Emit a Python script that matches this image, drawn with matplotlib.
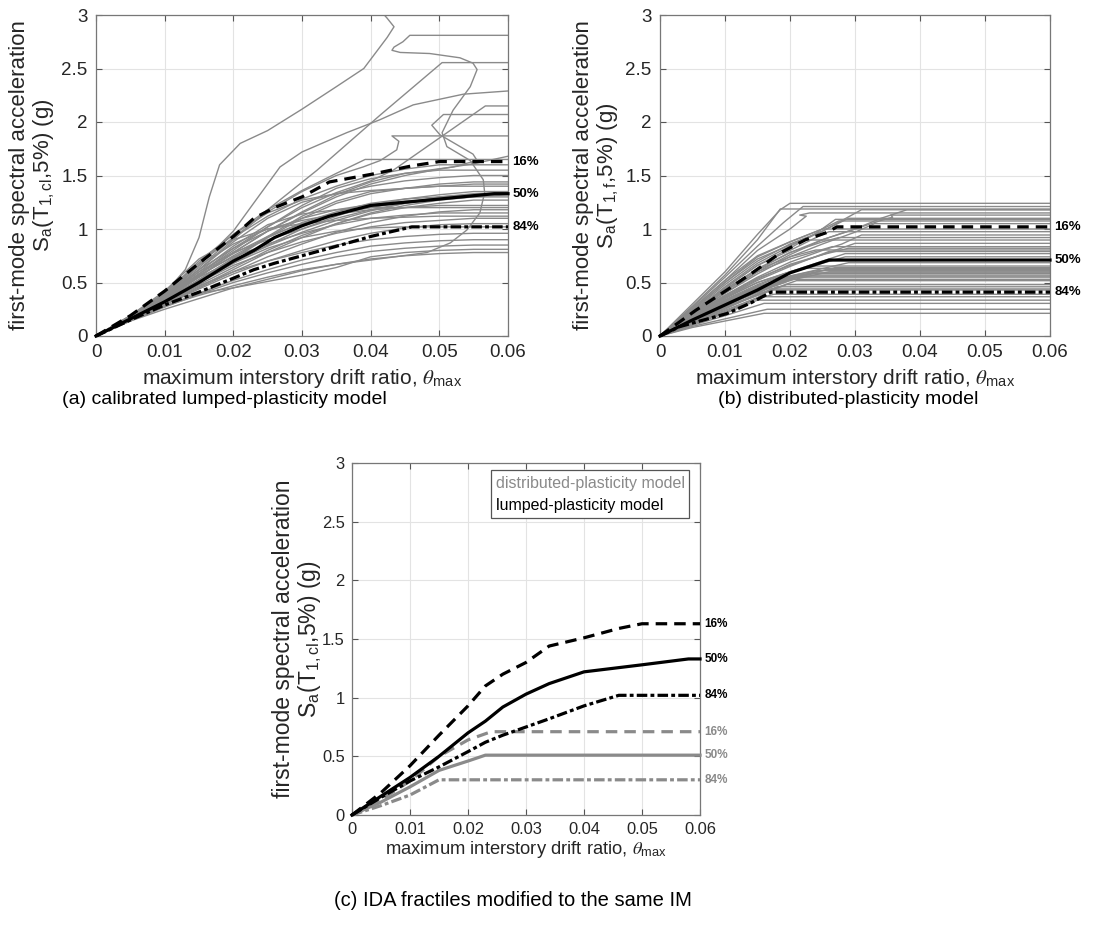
import matplotlib.pyplot as plt

plt.rcParams['font.family'] = ['Liberation Sans', 'DejaVu Sans']
plt.rcParams['mathtext.fontset'] = 'stix'

# axis ticks
drift_ticks = [0, 0.01, 0.02, 0.03, 0.04, 0.05, 0.06]
drift_tick_labels = ['0', '0.01', '0.02', '0.03', '0.04', '0.05', '0.06']
sa_ticks = [0, 0.5, 1, 1.5, 2, 2.5, 3]
sa_tick_labels = ['0', '0.5', '1', '1.5', '2', '2.5', '3']

# (a) lumped-plasticity IDA curves, Sa values on a common drift grid
drift_grid = [0, 0.005, 0.01, 0.015, 0.02, 0.025, 0.03, 0.035, 0.04, 0.045, 0.05, 0.055, 0.06]
lumped_bundle = [
    [0, .19, .40, .68, .92, 1.12, 1.28, 1.40, 1.50, 1.56, 1.60, 1.60, 1.60],
    [0, .17, .36, .58, .80, 1.02, 1.22, 1.38, 1.47, 1.52, 1.55, 1.55, 1.55],
    [0, .18, .38, .62, .88, 1.10, 1.25, 1.33, 1.40, 1.45, 1.48, 1.50, 1.50],
    [0, .17, .34, .52, .72, .92, 1.10, 1.24, 1.33, 1.38, 1.42, 1.44, 1.44],
    [0, .18, .39, .70, .95, 1.15, 1.27, 1.33, 1.36, 1.38, 1.40, 1.40, 1.40],
    [0, .16, .32, .50, .68, .85, 1.00, 1.12, 1.22, 1.28, 1.32, 1.35, 1.35],
    [0, .17, .35, .56, .75, .92, 1.06, 1.16, 1.24, 1.28, 1.30, 1.32, 1.33],
    [0, .18, .37, .60, .78, .90, 1.00, 1.10, 1.18, 1.24, 1.28, 1.31, 1.33],
    [0, .16, .30, .46, .62, .78, .92, 1.05, 1.15, 1.22, 1.27, 1.30, 1.32],
    [0, .17, .36, .62, .82, .98, 1.10, 1.18, 1.23, 1.26, 1.28, 1.30, 1.30],
    [0, .16, .31, .48, .64, .80, .94, 1.05, 1.14, 1.20, 1.24, 1.27, 1.27],
    [0, .18, .38, .66, .86, 1.00, 1.08, 1.14, 1.18, 1.20, 1.22, 1.22, 1.22],
    [0, .15, .30, .45, .60, .74, .86, .97, 1.06, 1.12, 1.16, 1.18, 1.18],
    [0, .17, .35, .57, .74, .86, .96, 1.04, 1.10, 1.13, 1.15, 1.15, 1.15],
    [0, .16, .32, .50, .66, .78, .88, .96, 1.02, 1.06, 1.08, 1.10, 1.10],
    [0, .15, .29, .44, .58, .70, .80, .89, .96, 1.01, 1.04, 1.05, 1.05],
    [0, .16, .31, .47, .60, .70, .78, .85, .90, .93, .95, .96, .96],
    [0, .15, .28, .40, .52, .62, .71, .78, .84, .87, .89, .90, .90],
    [0, .14, .27, .39, .50, .59, .67, .74, .79, .82, .84, .85, .85],
    [0, .16, .33, .40, .45, .51, .57, .64, .74, .78, .80, .81, .81],
    [0, .14, .25, .35, .45, .53, .61, .67, .72, .75, .77, .78, .78],
    [0, .19, .42, .72, .90, 1.00, 1.05, 1.08, 1.10, 1.11, 1.12, 1.12, 1.12],
    [0, .17, .36, .60, .84, 1.04, 1.14, 1.18, 1.20, 1.20, 1.20, 1.20, 1.20],
    [0, .17, .34, .52, .68, .82, .92, .98, 1.01, 1.02, 1.02, 1.02, 1.02],
    [0, .18, .36, .55, .70, .84, .97, 1.08, 1.17, 1.24, 1.30, 1.33, 1.34],
    [0, .16, .33, .53, .73, .93, 1.12, 1.26, 1.35, 1.38, 1.40, 1.42, 1.42],
    [0, .17, .36, .58, .77, .93, 1.05, 1.14, 1.20, 1.25, 1.29, 1.32, 1.33],
]

# (a) curves that leave the main bundle, as (drift, Sa) points
lumped_steep = [(0, 0), (.005, .18), (.01, .4), (.013, .62), (.015, .92), (.0165, 1.3), (.018, 1.6),
                (.021, 1.8), (.025, 1.92), (.03, 2.12), (.035, 2.33), (.039, 2.5), (.0424, 2.79),
                (.0434, 2.89), (.0424, 2.97), (.0413, 3.05)]
lumped_loop = [(0, 0), (.005, .15), (.01, .28), (.015, .38), (.02, .47), (.025, .55), (.03, .62),
               (.035, .67), (.04, .71), (.0482, .78), (.0516, .87), (.054, .99), (.0559, 1.15),
               (.0566, 1.34), (.0564, 1.46), (.0545, 1.64), (.0511, 1.77), (.0504, 1.9), (.052, 2.11),
               (.0545, 2.33), (.0555, 2.49), (.0549, 2.55), (.053, 2.6), (.0486, 2.64), (.0443, 2.65),
               (.0431, 2.67), (.0434, 2.7), (.0447, 2.75), (.0457, 2.81), (.06, 2.81)]
lumped_high = [
    [(0, 0), (.005, .18), (.01, .37), (.015, .62), (.02, .9), (.025, 1.18), (.0322, 1.55),
     (.0413, 2.06), (.0504, 2.555), (.06, 2.555)],
    [(0, 0), (.005, .18), (.01, .38), (.015, .66), (.02, .98), (.0268, 1.58), (.03, 1.72),
     (.0365, 1.9), (.0413, 2.02), (.0462, 2.16), (.0535, 2.26), (.06, 2.29)],
    [(0, 0), (.005, .18), (.01, .38), (.015, .64), (.02, .92), (.025, 1.16), (.03, 1.35), (.035, 1.5),
     (.0389, 1.58), (.0414, 1.64), (.0438, 1.74), (.0441, 1.82), (.0431, 1.87), (.06, 1.87)],
    [(0, 0), (.005, .17), (.01, .35), (.015, .58), (.02, .82), (.025, 1.02), (.03, 1.2), (.035, 1.34),
     (.04, 1.45), (.0433, 1.55), (.05, 1.85), (.0567, 2.15), (.06, 2.15)],
    [(0, 0), (.005, .17), (.01, .34), (.015, .55), (.02, .78), (.025, .98), (.03, 1.16), (.035, 1.32),
     (.04, 1.44), (.045, 1.52), (.052, 1.58), (.0555, 1.64), (.0549, 1.7), (.0501, 1.88),
     (.0489, 1.97), (.0506, 2.07), (.06, 2.07)],
    [(0, 0), (.005, .19), (.01, .4), (.015, .68), (.02, .95), (.025, 1.18), (.03, 1.36), (.035, 1.52),
     (.0392, 1.65), (.06, 1.65)],
    [(0, 0), (.005, .17), (.01, .34), (.015, .55), (.02, .78), (.025, .98), (.03, 1.15), (.035, 1.3),
     (.04, 1.42), (.045, 1.5), (.05, 1.56), (.055, 1.61), (.06, 1.68)],
]

# (b) distributed-plasticity IDA curves, (drift, Sa) points
distributed_curves = [
    [(0, 0), (.005, .30), (.01, .60), (.015, .95), (.0185, 1.18), (.02, 1.24), (.06, 1.24)],
    [(0, 0), (.005, .28), (.01, .57), (.015, .90), (.0185, 1.187), (.06, 1.187)],
    [(0, 0), (.005, .27), (.01, .55), (.015, .84), (.019, 1.06), (.022, 1.21), (.06, 1.21)],
    [(0, 0), (.005, .22), (.01, .46), (.015, .68), (.02, .84), (.025, .98), (.028, 1.08), (.031, 1.18), (.06, 1.18)],
    [(0, 0), (.005, .20), (.01, .40), (.015, .60), (.02, .76), (.025, .90), (.03, 1.0), (.034, 1.1), (.038, 1.18), (.06, 1.18)],
    [(0, 0), (.005, .25), (.01, .52), (.015, .80), (.02, 1.0), (.0225, 1.12), (.0215, 1.13), (.023, 1.15), (.06, 1.15)],
    [(0, 0), (.005, .21), (.01, .42), (.015, .62), (.02, .78), (.025, .90), (.03, 1.0), (.034, 1.08), (.0358, 1.11), (.0355, 1.13), (.06, 1.13)],
    [(0, 0), (.005, .23), (.01, .48), (.015, .70), (.02, .86), (.025, .98), (.029, 1.10), (.06, 1.10)],
    [(0, 0), (.005, .22), (.01, .45), (.015, .66), (.02, .82), (.024, .96), (.027, 1.09), (.06, 1.09)],
    [(0, 0), (.005, .24), (.01, .50), (.015, .74), (.02, .88), (.025, 1.0), (.0275, 1.075), (.06, 1.075)],
    [(0, 0), (.005, .20), (.01, .40), (.015, .58), (.02, .74), (.025, .86), (.03, .97), (.033, 1.05), (.06, 1.05)],
    [(0, 0), (.005, .26), (.01, .52), (.015, .75), (.02, .88), (.025, 1.0), (.06, 1.0)],
    [(0, 0), (.005, .22), (.01, .45), (.015, .66), (.02, .80), (.024, .92), (.026, .975), (.06, .975)],
    [(0, 0), (.005, .19), (.01, .38), (.015, .55), (.02, .69), (.025, .80), (.028, .86), (.031, .944), (.06, .944)],
    [(0, 0), (.005, .21), (.01, .43), (.015, .63), (.02, .78), (.025, .88), (.0275, .92), (.06, .92)],
    [(0, 0), (.005, .24), (.01, .50), (.015, .72), (.02, .85), (.022, .897), (.06, .897)],
    [(0, 0), (.005, .20), (.01, .38), (.015, .54), (.02, .66), (.025, .76), (.03, .866), (.06, .866)],
    [(0, 0), (.005, .21), (.01, .42), (.015, .60), (.02, .72), (.0265, .835), (.06, .835)],
    [(0, 0), (.005, .19), (.01, .37), (.015, .53), (.02, .67), (.025, .76), (.029, .82), (.06, .82)],
    [(0, 0), (.005, .22), (.01, .44), (.015, .62), (.02, .74), (.024, .804), (.06, .804)],
    [(0, 0), (.005, .19), (.01, .36), (.015, .52), (.02, .65), (.026, .79), (.06, .79)],
    [(0, 0), (.005, .18), (.01, .34), (.015, .48), (.02, .60), (.025, .70), (.0285, .77), (.06, .77)],
    [(0, 0), (.005, .17), (.01, .33), (.015, .47), (.02, .59), (.025, .68), (.0285, .74), (.06, .74)],
    [(0, 0), (.005, .17), (.01, .32), (.015, .45), (.02, .56), (.025, .63), (.029, .685), (.06, .685)],
    [(0, 0), (.005, .19), (.01, .36), (.015, .50), (.02, .60), (.024, .654), (.06, .654)],
    [(0, 0), (.005, .16), (.01, .31), (.015, .44), (.02, .55), (.025, .61), (.027, .64), (.06, .64)],
    [(0, 0), (.005, .18), (.01, .35), (.015, .50), (.02, .60), (.022, .632), (.06, .632)],
    [(0, 0), (.005, .16), (.01, .30), (.015, .43), (.02, .54), (.0255, .62), (.06, .62)],
    [(0, 0), (.005, .17), (.01, .33), (.015, .46), (.02, .56), (.024, .61), (.06, .61)],
    [(0, 0), (.005, .15), (.01, .28), (.015, .41), (.02, .52), (.026, .60), (.06, .60)],
    [(0, 0), (.005, .15), (.01, .29), (.015, .42), (.02, .53), (.024, .59), (.06, .59)],
    [(0, 0), (.005, .17), (.01, .32), (.015, .45), (.02, .54), (.023, .585), (.06, .585)],
    [(0, 0), (.005, .17), (.01, .33), (.015, .46), (.021, .57), (.06, .57)],
    [(0, 0), (.005, .15), (.01, .30), (.015, .43), (.02, .53), (.022, .56), (.06, .56)],
    [(0, 0), (.005, .16), (.01, .31), (.015, .44), (.0195, .55), (.06, .55)],
    [(0, 0), (.005, .15), (.01, .29), (.015, .41), (.0205, .53), (.06, .53)],
    [(0, 0), (.005, .14), (.01, .27), (.015, .39), (.021, .517), (.06, .517)],
    [(0, 0), (.005, .13), (.01, .26), (.015, .38), (.0195, .48), (.06, .48)],
    [(0, 0), (.005, .14), (.01, .27), (.015, .38), (.018, .46), (.06, .46)],
    [(0, 0), (.005, .13), (.01, .25), (.0165, .44), (.06, .44)],
    [(0, 0), (.005, .12), (.01, .24), (.015, .36), (.017, .43), (.06, .43)],
    [(0, 0), (.005, .12), (.01, .23), (.015, .35), (.0175, .39), (.06, .39)],
    [(0, 0), (.005, .11), (.01, .22), (.0155, .367), (.06, .367)],
    [(0, 0), (.005, .11), (.01, .21), (.015, .335), (.06, .335)],
    [(0, 0), (.005, .10), (.01, .19), (.016, .305), (.06, .305)],
    [(0, 0), (.005, .09), (.01, .16), (.0165, .25), (.06, .25)],
    [(0, 0), (.005, .08), (.01, .14), (.015, .20), (.016, .212), (.06, .212)],
]

# fractile curves, lumped model (panels a and c)
lumped_16_x = [0, .005, .01, .015, .02, .023, .026, .03, .034, .04, .046, .05, .06]
lumped_16_y = [0, .19, .42, .68, .93, 1.1, 1.2, 1.3, 1.44, 1.51, 1.59, 1.63, 1.63]
lumped_50_x = [0, .005, .01, .015, .02, .023, .026, .03, .034, .04, .05, .058, .06]
lumped_50_y = [0, .16, .32, .5, .7, .8, .92, 1.03, 1.12, 1.22, 1.28, 1.33, 1.33]
lumped_84_x = [0, .005, .01, .015, .02, .023, .026, .03, .034, .04, .046, .06]
lumped_84_y = [0, .15, .29, .41, .54, .62, .68, .75, .82, .93, 1.02, 1.02]

# fractile curves, distributed model at its own IM (panel b)
dist_16_x = [0, .0055, .0103, .0142, .0186, .0224, .0258, .0272, .06]
dist_16_y = [0, .24, .43, .59, .78, .9, .97, 1.02, 1.02]
dist_50_x = [0, .005, .01, .015, .02, .022, .026, .06]
dist_50_y = [0, .15, .29, .43, .59, .63, .71, .71]
dist_84_x = [0, .003, .0103, .014, .0171, .06]
dist_84_y = [0, .087, .21, .31, .41, .41]

# fractile curves, distributed model modified to the lumped IM (panel c)
mod_16_x = [0, .005, .01, .015, .02, .024, .06]
mod_16_y = [0, .13, .29, .5, .64, .71, .71]
mod_50_x = [0, .005, .01, .015, .02, .023, .06]
mod_50_y = [0, .11, .24, .38, .46, .51, .51]
mod_84_x = [0, .005, .01, .015, .06]
mod_84_y = [0, .08, .17, .30, .30]

fractile_names = ['16%', '50%', '84%']

GRAY = '#8a8a8a'
DASH = (3.6, 2.2)
DASHDOT = (3.3, 1.0, 1.2, 1.0)

W, H = 1110, 927
fig = plt.figure(figsize=(W / 100, H / 100), dpi=100)


def make_axes(left, top, right, bottom):
  return fig.add_axes([left / W, 1 - bottom / H, (right - left) / W, (bottom - top) / H])


def style_axes(ax, period, scale=1.0, ylabel_size=16, ylabel_pad=4, xlabel_pad=4):
  ax.set_xlim(0, 0.06)
  ax.set_ylim(0, 3)
  ax.set_xticks(drift_ticks)
  ax.set_xticklabels(drift_tick_labels)
  ax.set_yticks(sa_ticks)
  ax.set_yticklabels(sa_tick_labels)
  ax.tick_params(direction='in', length=4, width=0.8, colors='#555555', labelcolor='#262626',
                 labelsize=13.5 * scale, top=True, right=True, pad=6 * scale)
  for s in ax.spines.values():
    s.set_color('#777777')
    s.set_linewidth(0.9)
  ax.grid(True, color='#e3e3e3', linewidth=0.8)
  ax.set_axisbelow(True)
  ax.set_xlabel(r'maximum interstory drift ratio, $\theta_{\mathregular{max}}$',
                fontsize=15 * scale, color='#262626', labelpad=xlabel_pad)
  ax.set_ylabel('first-mode spectral acceleration\n'
                r'S$_{\mathregular{a}}$(T$_{\mathregular{' + period + r'}}$,5%) (g)',
                fontsize=ylabel_size, color='#262626', multialignment='center',
                labelpad=ylabel_pad, linespacing=1.05)


def draw_fractiles(ax, curves, color, lw=2.3, fs=9.5):
  styles = [dict(dashes=DASH), dict(linestyle='-'), dict(dashes=DASHDOT)]
  for (x, y), st, name in zip(curves, styles, fractile_names):
    ax.plot(x, y, color=color, lw=lw, zorder=5, clip_on=False, **st)
    ax.annotate(name, xy=(x[-1], y[-1]), xytext=(3, 0), textcoords='offset points',
                ha='left', va='center', fontsize=fs, fontweight='bold', color=color,
                annotation_clip=False)


# (a) calibrated lumped-plasticity model
ax_a = make_axes(96, 15, 508, 336)
for sa in lumped_bundle:
  ax_a.plot(drift_grid, sa, color=GRAY, lw=1.0)
for pts in lumped_high + [lumped_steep, lumped_loop]:
  ax_a.plot([p[0] for p in pts], [p[1] for p in pts], color=GRAY, lw=1.0)
style_axes(ax_a, '1,cl')
draw_fractiles(ax_a, [(lumped_16_x, lumped_16_y), (lumped_50_x, lumped_50_y),
                      (lumped_84_x, lumped_84_y)], 'black')

# (b) distributed-plasticity model
ax_b = make_axes(660, 15, 1050, 336)
for pts in distributed_curves:
  ax_b.plot([p[0] for p in pts], [p[1] for p in pts], color=GRAY, lw=1.0)
style_axes(ax_b, '1,f')
draw_fractiles(ax_b, [(dist_16_x, dist_16_y), (dist_50_x, dist_50_y),
                      (dist_84_x, dist_84_y)], 'black')

# (c) fractiles modified to the same IM
ax_c = make_axes(352, 463, 700, 815)
style_axes(ax_c, '1,cl', scale=0.88, ylabel_size=16.5, ylabel_pad=-1, xlabel_pad=1.5)
draw_fractiles(ax_c, [(mod_16_x, mod_16_y), (mod_50_x, mod_50_y), (mod_84_x, mod_84_y)],
               GRAY, fs=8.5)
draw_fractiles(ax_c, [(lumped_16_x, lumped_16_y), (lumped_50_x, lumped_50_y),
                      (lumped_84_x, lumped_84_y)], 'black', fs=8.5)
handles = [plt.Line2D([], [], linestyle='none'), plt.Line2D([], [], linestyle='none')]
leg = ax_c.legend(handles, ['distributed-plasticity model', 'lumped-plasticity model'],
                  loc='lower left', bbox_to_anchor=(0.376, 0.82, 0.614, 0.16), mode='expand',
                  handlelength=0, handletextpad=0, fontsize=11.5, fancybox=False,
                  framealpha=1, edgecolor='#555555', borderpad=0.35, labelspacing=0.45,
                  labelcolor=[GRAY, 'black'])
leg.get_frame().set_linewidth(0.9)

fig.text(224 / W, 1 - 399 / H, '(a) calibrated lumped-plasticity model', fontsize=14,
         ha='center', va='center')
fig.text(848 / W, 1 - 399 / H, '(b) distributed-plasticity model', fontsize=14,
         ha='center', va='center')
fig.text(513 / W, 1 - 900 / H, '(c) IDA fractiles modified to the same IM', fontsize=14.5,
         ha='center', va='center')

fig.savefig('out.png', dpi=100)
